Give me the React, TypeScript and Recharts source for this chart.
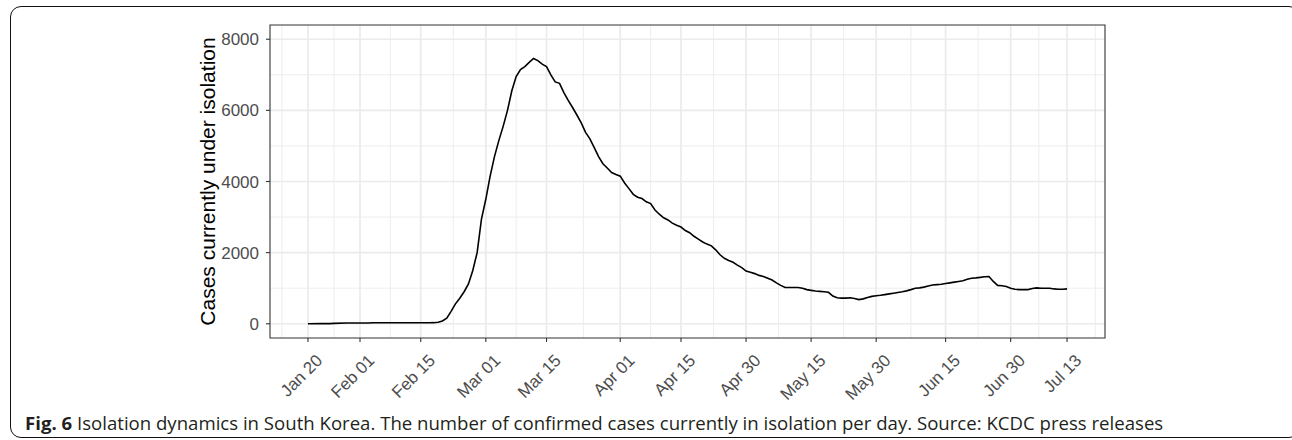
import React from 'react';
import { LineChart, Line, XAxis, YAxis, CartesianGrid, ReferenceArea } from 'recharts';

// Days since Jan 20, 2020
const days = [
  0, 3, 5, 6, 9, 14, 15, 20, 25, 28, 29,
  30, 31, 32, 33, 34, 35, 36, 37, 38, 39, 40, 41, 42, 43, 44, 45, 46, 47, 48, 49,
  50, 51, 52, 53, 54, 55, 56, 57, 58, 59, 60, 61, 62, 63, 64, 65, 66, 67, 68, 69,
  70, 71, 72, 73, 74, 75, 76, 77, 78, 79, 80, 81, 82, 83, 84, 85, 86, 87, 88, 89,
  90, 91, 92, 93, 94, 95, 96, 97, 98, 99, 100, 101, 102, 103, 104, 105, 106, 107, 108, 109,
  110, 111, 112, 113, 114, 115, 116, 117, 118, 119, 120, 121, 122, 123, 124, 125, 126, 127, 128, 129,
  130, 131, 132, 133, 134, 135, 136, 137, 138, 139, 140, 141, 142, 143, 144, 145, 146, 147, 148, 149,
  150, 151, 152, 153, 154, 155, 156, 157, 158, 159, 160, 161, 162, 163, 164, 165, 166, 167, 168, 169,
  170, 171, 172, 173, 174, 175,
];

// Cases currently under isolation
const isolated = [
  1, 3, 4, 12, 20, 21, 27, 28, 28, 30, 31,
  45, 80, 160, 350, 560, 720, 900, 1120, 1500, 2000, 2940, 3500, 4150, 4700, 5150, 5550, 6000, 6550, 6950, 7150,
  7230, 7350, 7460, 7400, 7300, 7230, 7000, 6800, 6760, 6500, 6280, 6080, 5870, 5650, 5380, 5200, 4950, 4700, 4500, 4380,
  4250, 4200, 4150, 3960, 3800, 3640, 3560, 3520, 3430, 3380, 3200, 3080, 2980, 2920, 2830, 2770, 2720, 2620, 2560, 2460,
  2380, 2300, 2240, 2190, 2080, 1940, 1840, 1780, 1730, 1650, 1580, 1480, 1450, 1410, 1360, 1330, 1280, 1230, 1150, 1080,
  1020, 1020, 1020, 1020, 1000, 960, 940, 920, 910, 900, 885, 780, 730, 720, 720, 730, 710, 680, 700, 740,
  770, 790, 800, 820, 840, 860, 880, 900, 925, 960, 1000, 1010, 1030, 1060, 1090, 1100, 1110, 1130, 1150, 1170,
  1190, 1210, 1250, 1280, 1290, 1305, 1320, 1330, 1190, 1080, 1070, 1050, 1000, 970, 960, 960, 960, 990, 1010, 1000,
  1000, 1000, 980, 970, 970, 980,
];

const tickDays = [0, 12, 26, 41, 55, 72, 86, 101, 116, 131, 147, 162, 175];
const tickLabels = ['Jan 20', 'Feb 01', 'Feb 15', 'Mar 01', 'Mar 15', 'Apr 01', 'Apr 15', 'Apr 30', 'May 15', 'May 30', 'Jun 15', 'Jun 30', 'Jul 13'];
const minorDays = [-6, 6, 19, 33.5, 48, 63.5, 79, 93.5, 108.5, 123.5, 139, 154.5, 168.5, 181.5];
const yTicks = [0, 2000, 4000, 6000, 8000];
const yMinor = [1000, 3000, 5000, 7000];

const xDomain = [-8.75, 183.75];
const yDomain = [-400, 8400];

const yTitle = 'Cases currently under isolation';
const captionBold = 'Fig. 6';
const captionText = ' Isolation dynamics in South Korea. The number of confirmed cases currently in isolation per day. Source: KCDC press releases';

const data = days.map((d, i) => ({ day: d, cases: isolated[i] }));

const FONT = '"Liberation Sans", Arial, Helvetica, sans-serif';

const XTick = (props: any) => {
  const { x, y, payload } = props;
  const idx = tickDays.indexOf(payload.value);
  const label = idx >= 0 ? tickLabels[idx] : '';
  const ax = x + 7;
  const ay = y + 9;
  return (
    <text
      x={ax}
      y={ay}
      dy="0.71em"
      transform={`rotate(-45 ${ax} ${ay})`}
      textAnchor="end"
      fill="#4D4D4D"
      fontSize={17}
      fontFamily={FONT}
    >
      {label}
    </text>
  );
};

export default function App() {
  return (
    <div style={{ position: 'absolute', left: 0, top: 0, width: 1292, height: 440, background: '#ffffff', overflow: 'hidden' }}>
      <div
        style={{
          position: 'absolute',
          left: 10,
          top: 6,
          width: 1290,
          height: 432,
          border: '1.5px solid #111',
          borderRadius: 11,
          boxSizing: 'border-box',
        }}
      />
      <div style={{ position: 'absolute', left: 0, top: 0 }}>
        <LineChart width={1292} height={440} data={data} margin={{ top: 25, right: 187, bottom: 42, left: 210 }}>
          <CartesianGrid
            stroke="#EBEBEB"
            strokeWidth={0.9}
            verticalValues={minorDays}
            horizontalValues={yMinor}
          />
          <CartesianGrid
            stroke="#EBEBEB"
            strokeWidth={1.7}
            verticalValues={tickDays}
            horizontalValues={yTicks}
          />
          <XAxis
            dataKey="day"
            type="number"
            domain={xDomain}
            ticks={tickDays}
            allowDataOverflow
            height={60}
            axisLine={false}
            tickLine={{ stroke: '#333333', strokeWidth: 1.1 }}
            tickSize={4}
            tickMargin={2}
            tick={<XTick />}
            interval={0}
          />
          <YAxis
            type="number"
            domain={yDomain}
            ticks={yTicks}
            allowDataOverflow
            width={60}
            axisLine={false}
            tickLine={{ stroke: '#333333', strokeWidth: 1.1 }}
            tickSize={4}
            tickMargin={7}
            tick={{ fill: '#4D4D4D', fontSize: 17, fontFamily: FONT }}
            interval={0}
          />
          <Line
            type="linear"
            dataKey="cases"
            stroke="#000000"
            strokeWidth={1.6}
            dot={false}
            isAnimationActive={false}
          />
          <ReferenceArea
            x1={xDomain[0]}
            x2={xDomain[1]}
            y1={yDomain[0]}
            y2={yDomain[1]}
            fill="none"
            fillOpacity={0}
            stroke="#333333"
            strokeWidth={1.1}
            ifOverflow="visible"
          />
        </LineChart>
      </div>
      <svg width={1292} height={440} style={{ position: 'absolute', left: 0, top: 0, pointerEvents: 'none' }}>
        <text
          x={0}
          y={0}
          transform="translate(215 181.5) rotate(-90)"
          textAnchor="middle"
          fontSize={21}
          fontFamily={FONT}
          fill="#000000"
        >
          {yTitle}
        </text>
      </svg>
      <div
        style={{
          position: 'absolute',
          left: 25,
          top: 409.5,
          fontFamily: '"Open Sans", "Noto Sans", sans-serif',
          fontSize: 18.6,
          color: '#231F20',
          whiteSpace: 'nowrap',
        }}
      >
        <b>{captionBold}</b>
        {captionText}
      </div>
    </div>
  );
}
